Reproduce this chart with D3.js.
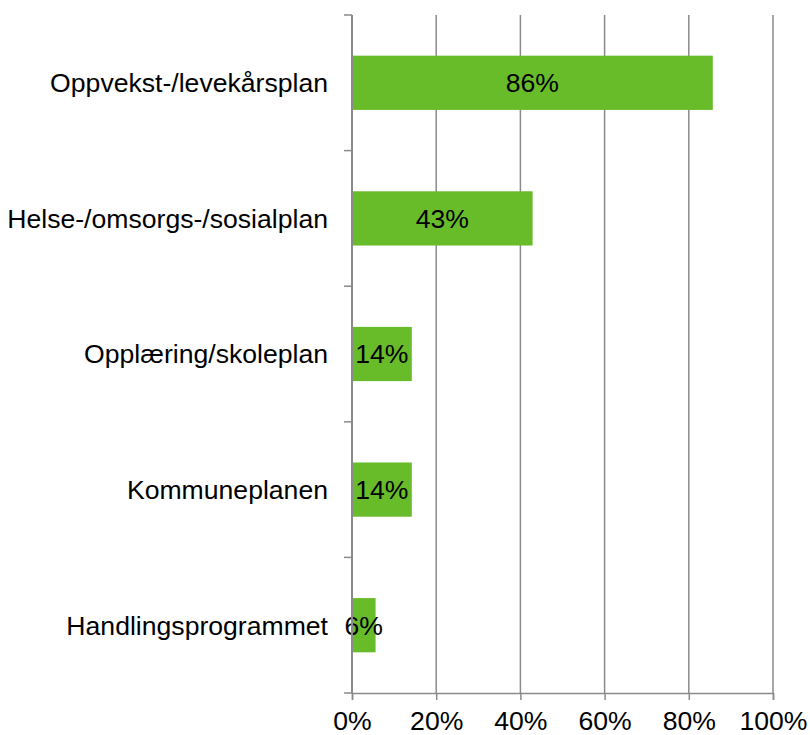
<!DOCTYPE html>
<html>
<head>
<meta charset="utf-8">
<script src="https://cdn.jsdelivr.net/npm/d3@7"></script>
<style>
  body { margin: 0; background: #fff; }
  text { font-family: "Liberation Sans", Arial, sans-serif; fill: #000; }
</style>
</head>
<body>
<div id="graph"></div>
<script>
// kategorier og verdier (andel i prosent)
var categories = ["Oppvekst-/levekårsplan", "Helse-/omsorgs-/sosialplan", "Opplæring/skoleplan", "Kommuneplanen", "Handlingsprogrammet"];
var values = [85.7, 42.9, 14.2, 14.2, 5.6];
var xTicks = [0, 20, 40, 60, 80, 100];

var width = 810, height = 735;
var margin = { top: 15, left: 352, bottom: 42, right: 37 };
var chartWidth = width - margin.left - margin.right;
var chartHeight = height - margin.top - margin.bottom;
var fontSize = "26.6px";

var data = categories.map(function(c, i) { return { name: c, value: values[i] }; });

var svg = d3.select("#graph").append("svg")
  .attr("width", width)
  .attr("height", height);

var chartLayer = svg.append("g")
  .attr("transform", "translate(" + [margin.left, margin.top] + ")");

var xScale = d3.scaleLinear().domain([0, 100]).range([0, chartWidth]);
var yScale = d3.scaleBand()
  .domain(categories)
  .range([0, chartHeight])
  .paddingInner(0.6)
  .paddingOuter(0.3);

var grey = "#8a8a8a";

// rutenett
chartLayer.selectAll(".grid")
  .data(xTicks.slice(1))
  .enter().append("line")
  .attr("class", "grid")
  .attr("x1", function(d) { return xScale(d); })
  .attr("x2", function(d) { return xScale(d); })
  .attr("y1", 0)
  .attr("y2", chartHeight)
  .attr("stroke", grey)
  .attr("stroke-width", 1.5);

// søyler
chartLayer.selectAll(".bar")
  .data(data)
  .enter().append("rect")
  .attr("class", "bar")
  .attr("x", 0)
  .attr("y", function(d) { return yScale(d.name); })
  .attr("width", function(d) { return xScale(d.value); })
  .attr("height", yScale.bandwidth())
  .attr("fill", "#68bc2a");

// verdietiketter
chartLayer.selectAll(".label")
  .data(data)
  .enter().append("text")
  .attr("class", "label")
  .attr("x", function(d) { return xScale(d.value) / 2; })
  .attr("y", function(d) { return yScale(d.name) + yScale.bandwidth() / 2; })
  .attr("dy", "0.35em")
  .attr("text-anchor", "middle")
  .style("font-size", fontSize)
  .text(function(d) { return Math.round(d.value) + "%"; });

// x-akse
var xAxis = d3.axisBottom(xScale)
  .tickValues(xTicks)
  .tickSize(7)
  .tickPadding(11)
  .tickFormat(function(d) { return d + "%"; });

var gx = chartLayer.append("g")
  .attr("transform", "translate(0," + chartHeight + ")")
  .call(xAxis);
gx.select(".domain").attr("stroke", grey).attr("stroke-width", 1.5);
gx.selectAll(".tick line").attr("stroke", grey).attr("stroke-width", 1.5);
gx.selectAll(".tick text").style("font-size", fontSize).attr("font-family", null);

// y-akse med tikk mellom kategoriene
var gy = chartLayer.append("g");
var step = chartHeight / categories.length;
gy.selectAll(".ytick")
  .data(d3.range(categories.length + 1))
  .enter().append("line")
  .attr("x1", -8).attr("x2", 0)
  .attr("y1", function(i) { return i * step; })
  .attr("y2", function(i) { return i * step; })
  .attr("stroke", grey).attr("stroke-width", 1.5);
gy.append("line")
  .attr("x1", 0).attr("x2", 0)
  .attr("y1", 0).attr("y2", chartHeight)
  .attr("stroke", grey).attr("stroke-width", 2);

gy.selectAll(".cat")
  .data(categories)
  .enter().append("text")
  .attr("class", "cat")
  .attr("x", -24)
  .attr("y", function(d) { return yScale(d) + yScale.bandwidth() / 2; })
  .attr("dy", "0.35em")
  .attr("text-anchor", "end")
  .style("font-size", fontSize)
  .text(function(d) { return d; });
</script>
</body>
</html>
